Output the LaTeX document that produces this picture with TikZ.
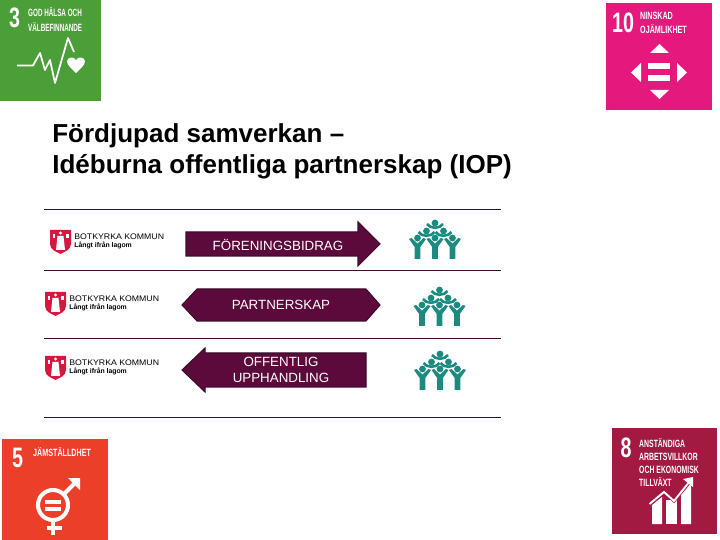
\documentclass[tikz,border=0pt]{standalone}
\usepackage{fontspec}
\setmainfont{Liberation Sans}
\usetikzlibrary{positioning}
\definecolor{sdggreen}{HTML}{4C9F38}
\definecolor{sdgpink}{HTML}{E5197D}
\definecolor{sdgred}{HTML}{EB3F2A}
\definecolor{sdgmaroon}{HTML}{A21942}
\definecolor{plum}{HTML}{5C0A3C}
\definecolor{plumdark}{HTML}{3F0A2C}
\definecolor{peopleteal}{HTML}{1B8A80}
\definecolor{shieldred}{HTML}{D8173F}
\tikzset{
    titletext/.style={anchor=base west,font=\bfseries\fontsize{14.8}{17}\selectfont,inner sep=0pt},
    arrowtext/.style={text=white,font=\fontsize{7.6}{9}\selectfont,align=center,inner sep=0pt},
    sdgnum/.style={text=white,anchor=center,inner sep=0pt,font=\bfseries\fontsize{16}{17}\selectfont,transform shape,xscale=.7},
    sdgtext/.style={text=white,anchor=north west,inner sep=0pt,align=left,font=\bfseries\fontsize{6}{8}\selectfont,transform shape,xscale=.68},
    sdgicon/.style={white,line width=1pt},
    rowline/.style={plumdark,line width=.5pt},
    plumarrow/.style={fill=plum,draw=plumdark,line width=.6pt,line join=miter}
}
\newcommand{\botkyrka}[3]{
    \begin{scope}[shift={(#1,#2)}]
        \fill[shieldred] (0,0) -- (21,0) -- (21,14) .. controls (21,20) and (14,22) .. (10.5,24) .. controls (7,22) and (0,20) .. (0,14) -- cycle;
        \fill[white] (10.5,3) circle (1.6);
        \fill[white] (7.5,6) -- (13.5,6) -- (15,20) -- (6,20) -- cycle;
        \fill[white] (2.5,4) rectangle (5,8);
        \fill[white] (16,4) rectangle (18.5,8);
        \node[anchor=base west,inner sep=0pt,font=\fontsize{4.6}{5}\selectfont,transform shape,xscale=1.08] (#3name) at (24,10) {BOTKYRKA KOMMUN};
        \node[anchor=base west,inner sep=0pt,font=\bfseries\fontsize{3.9}{4.5}\selectfont] (#3motto) at (24,17.5) {Långt ifrån lagom};
    \end{scope}
}
\newcommand{\personarms}[2]{
    \draw[peopleteal,line width=1.5pt] (#1-8,#2+1) .. controls (#1-5,#2+6) and (#1+5,#2+6) .. (#1+8,#2+1);
    \fill[peopleteal] (#1,#2) circle (3.4);
}
\newcommand{\persontall}[2]{
    \fill[peopleteal] (#1-8.5,#2+1) -- (#1-6,#2) -- (#1,#2+5.5) -- (#1+6,#2) -- (#1+8.5,#2+1) -- (#1+2.8,#2+9) -- (#1+2.8,#2+21) -- (#1-2.8,#2+21) -- (#1-2.8,#2+9) -- cycle;
    \fill[peopleteal] (#1,#2) circle (3.4);
}
\newcommand{\peoplegroup}[2]{
    \begin{scope}[shift={(#1,#2)}]
        \personarms{0}{0}
        \personarms{-8.5}{8}
        \personarms{8.5}{8}
        \persontall{-17.5}{15}
        \persontall{0}{15}
        \persontall{17.5}{15}
    \end{scope}
}

\begin{document}
\begin{tikzpicture}[x=.02cm,y=-.02cm]
    \useasboundingbox (0,0) rectangle (720,540);

    \fill[sdggreen] (0,0) rectangle (101,101);
    \node[sdgnum] (threenum) at (14.5,18) {3};
    \node[sdgtext,xscale=.88,font=\bfseries\fontsize{6}{8.5}\selectfont] (threetext) at (28,7) {GOD HÄLSA OCH\\VÄLBEFINNANDE};
    \draw[sdgicon,line join=round] (17,65.5) -- (33,65.5) -- (40,53) -- (45,70) -- (50,60) -- (55,83) -- (68,38) -- (74,52);
    \fill[white] (76,73) .. controls (71,68) and (67,65) .. (67,61.5) .. controls (67,57) and (74,56) .. (76,60) .. controls (78,56) and (85,57) .. (85,61.5) .. controls (85,65) and (81,68) .. (76,73) -- cycle;

    \fill[sdgpink] (606,3) rectangle (712,110);
    \node[sdgnum] (tennum) at (623,23) {10};
    \node[sdgtext] (tentext) at (640,12) {NINSKAD\\OJÄMLIKHET};
    \fill[white] (650,53) -- (669,53) -- (659.5,44) -- cycle;
    \fill[white] (650,90) -- (669,90) -- (659.5,99) -- cycle;
    \fill[white] (641,63) -- (641,82) -- (631,72.5) -- cycle;
    \fill[white] (677,63) -- (677,82) -- (687,72.5) -- cycle;
    \fill[white] (648,63) rectangle (670,69);
    \fill[white] (648,75) rectangle (670,81);

    \node[titletext] (titleone) at (52,143) {Fördjupad samverkan –};
    \node[titletext] (titletwo) at (52,174) {Idéburna offentliga partnerskap (IOP)};

    \draw[rowline] (44,209) -- (501,209);
    \draw[rowline] (44,270) -- (501,270);
    \draw[rowline] (44,338) -- (501,338);
    \draw[rowline] (44,417) -- (501,417);

    \botkyrka{50}{230}{a}
    \botkyrka{45}{292}{b}
    \botkyrka{45}{356}{c}

    \draw[plumarrow] (186,232) -- (358,232) -- (358,222) -- (380,244) -- (358,266) -- (358,256) -- (186,256) -- cycle;
    \node[arrowtext] (bidrag) at (278,244.5) {FÖRENINGSBIDRAG};

    \draw[plumarrow] (182,305) -- (197,289) -- (366,289) -- (380,305) -- (366,321) -- (197,321) -- cycle;
    \node[arrowtext] (partnerskap) at (281,305) {PARTNERSKAP};

    \draw[plumarrow] (182,370) -- (205,348) -- (205,353) -- (366,353) -- (366,387) -- (205,387) -- (205,392) -- cycle;
    \node[arrowtext] (upphandling) at (281,370) {OFFENTLIG\\UPPHANDLING};

    \peoplegroup{435}{223}
    \peoplegroup{439.5}{290}
    \peoplegroup{440}{354}

    \fill[sdgred] (2,439) rectangle (108,540);
    \node[sdgnum] (fivenum) at (17.5,458) {5};
    \node[sdgtext] (fivetext) at (33,447) {JÄMSTÄLLDHET};
    \draw[white,line width=2.3pt] (53,505) circle (15);
    \fill[white] (45,500) rectangle (61,503.5);
    \fill[white] (45,507) rectangle (61,510.5);
    \draw[white,line width=2.3pt] (53,520) -- (53,535);
    \draw[white,line width=2.3pt] (47,528) -- (62,528);
    \draw[white,line width=2.3pt] (64,494) -- (77,481);
    \fill[white] (68,478) -- (80,478) -- (80,490) -- cycle;

    \fill[sdgmaroon] (612,428) rectangle (717,534);
    \node[sdgnum] (eightnum) at (626,448) {8};
    \node[sdgtext,xscale=.96,font=\bfseries\fontsize{6}{7.4}\selectfont] (eighttext) at (639,438) {ANSTÄNDIGA\\ARBETSVILLKOR\\OCH EKONOMISK\\TILLVÄXT};
    \fill[white] (652,505) -- (662,497) -- (662,524) -- (652,524) -- cycle;
    \fill[white] (666,500) -- (677,500) -- (677,524) -- (666,524) -- cycle;
    \fill[white] (681,493) -- (691,481) -- (691,524) -- (681,524) -- cycle;
    \draw[sdgmaroon,line width=1.8pt] (649,505) -- (664,492) -- (674,501) -- (693,478);
    \draw[white,line width=1.1pt] (649.5,504) -- (664,492) -- (674,501) -- (690,481);
    \fill[white] (683,479) -- (693,477) -- (693,487) -- cycle;
\end{tikzpicture}
\end{document}
